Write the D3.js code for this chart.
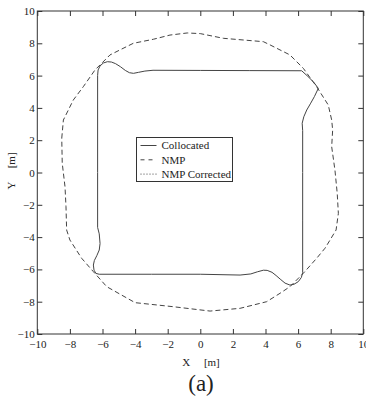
<!DOCTYPE html>
<html>
<head>
<meta charset="utf-8">
<script src="https://cdn.jsdelivr.net/npm/d3@7"></script>
<style>
  body { margin: 0; background: #fff; }
  svg { display: block; }
  text { font-family: "Liberation Serif", "Times New Roman", Times, serif; fill: #222; }
  .axis text { font-size: 11px; }
  .axis line { stroke: #333; }
</style>
</head>
<body>
<div id="chart"></div>
<script>
// series, [x, y] in metres
const collocated = [
  [-6.3, 6.0], [-6.27, 6.35], [-6.15, 6.6], [-5.95, 6.78], [-5.7, 6.86], [-5.45, 6.84],
  [-5.2, 6.74], [-4.9, 6.55], [-4.6, 6.32], [-4.35, 6.18], [-4.1, 6.14], [-3.8, 6.2],
  [-3.4, 6.28], [-2.9, 6.33], [0, 6.32], [3, 6.31], [6.22, 6.3], [6.6, 5.95],
  [6.95, 5.6], [7.24, 5.21], [7.0, 4.7], [6.75, 4.25], [6.53, 3.87], [6.35, 3.45],
  [6.25, 3.05], [6.28, 2.6], [6.28, 0], [6.28, -3], [6.28, -6.2], [6.2, -6.5],
  [6.01, -6.76], [5.75, -6.92], [5.5, -6.97], [5.2, -6.85], [4.9, -6.6], [4.65, -6.38],
  [4.4, -6.18], [4.1, -6.06], [3.87, -6.05], [3.5, -6.15], [3.1, -6.28], [2.44, -6.35],
  [0, -6.3], [-3, -6.3], [-6.2, -6.3], [-6.4, -6.25], [-6.52, -6.05], [-6.56, -5.73],
  [-6.5, -5.45], [-6.35, -5.15], [-6.2, -4.8], [-6.15, -4.4], [-6.2, -3.8], [-6.3, -3.4],
  [-6.3, 0], [-6.3, 6.0]
];
const nmp = [
  [-8.5, 2.12], [-8.4, 3.25], [-7.79, 4.49], [-7.18, 5.31], [-6.46, 6.35], [-5.54, 7.28],
  [-4.93, 7.59], [-4.11, 8.0], [-2.88, 8.25], [-1.86, 8.51], [-0.8, 8.64], [0, 8.6],
  [1.41, 8.31], [3.87, 8.1], [4.28, 7.9], [5.5, 7.28], [6.32, 6.45], [7.14, 5.31],
  [7.85, 4.18], [8.06, 3.25], [8.12, 2.63], [8.06, 1.6], [8.26, 0.15], [8.4, -1.29],
  [8.47, -2.53], [8.33, -3.56], [7.96, -4.18], [7.65, -4.69], [7.14, -5.31], [6.32, -6.24],
  [5.5, -7.07], [4.89, -7.48], [4.07, -8.0], [2.44, -8.41], [0.6, -8.58], [-1.66, -8.31],
  [-4.0, -8.06], [-5.74, -7.07], [-6.56, -6.14], [-7.28, -5.31], [-8.0, -4.18], [-8.2, -3.56],
  [-8.24, -2.12], [-8.3, -0.88], [-8.47, 0.57], [-8.5, 2.12]
];
const legendNames = ["Collocated", "NMP", "NMP Corrected"];
const xTicks = [-10, -8, -6, -4, -2, 0, 2, 4, 6, 8, 10];
const yTicks = [-10, -8, -6, -4, -2, 0, 2, 4, 6, 8, 10];

const W = 366, H = 398;
const margin = {top: 11, right: 2.7, bottom: 64, left: 37.3};
const width = W - margin.left - margin.right;
const height = H - margin.top - margin.bottom;

const svg = d3.select("#chart").append("svg")
  .attr("width", W).attr("height", H);
const g = svg.append("g")
  .attr("transform", `translate(${margin.left},${margin.top})`);

const x = d3.scaleLinear().domain([-10, 10]).range([0, width]);
const y = d3.scaleLinear().domain([-10, 10]).range([height, 0]);
const fmt = d => d < 0 ? "\u2212" + Math.abs(d) : String(d);

// axes, ticks pointing inward like matlab
g.append("g").attr("class", "axis")
  .attr("transform", `translate(0,${height})`)
  .call(d3.axisBottom(x).tickValues(xTicks).tickSize(-5).tickSizeOuter(0).tickPadding(6.5).tickFormat(fmt));
g.append("g").attr("class", "axis")
  .call(d3.axisLeft(y).tickValues(yTicks).tickSize(-5).tickSizeOuter(0).tickPadding(2.5).tickFormat(fmt));
g.append("g").attr("class", "axis")
  .call(d3.axisTop(x).tickValues(xTicks).tickSize(-5).tickSizeOuter(0).tickFormat(""));
g.append("g").attr("class", "axis")
  .attr("transform", `translate(${width},0)`)
  .call(d3.axisRight(y).tickValues(yTicks).tickSize(-5).tickSizeOuter(0).tickFormat(""));
g.selectAll(".axis .domain").remove();
g.selectAll(".axis text").attr("font-family", null);
g.append("rect").attr("width", width).attr("height", height)
  .attr("fill", "none").attr("stroke", "#333").attr("stroke-width", 1);

const line = d3.line().x(d => x(d[0])).y(d => y(d[1]));

g.append("path").datum(nmp)
  .attr("d", line).attr("fill", "none")
  .attr("stroke", "#444").attr("stroke-width", 1).attr("stroke-dasharray", "5,3");
g.append("path").datum(collocated)
  .attr("d", line).attr("fill", "none")
  .attr("stroke", "#444").attr("stroke-width", 1).attr("stroke-linejoin", "round");

// legend
const lg = svg.append("g").attr("transform", "translate(136.5,137.5)");
lg.append("rect").attr("width", 96).attr("height", 44)
  .attr("fill", "#fff").attr("stroke", "#333").attr("stroke-width", 1);
const dashes = [null, "4,4", "1,2"];
legendNames.forEach((name, i) => {
  const yy = 8 + i * 14.3;
  lg.append("line").attr("x1", 4).attr("x2", 20).attr("y1", yy).attr("y2", yy)
    .attr("stroke", "#444").attr("stroke-width", 1)
    .attr("stroke-dasharray", dashes[i]);
  lg.append("text").attr("x", 25).attr("y", yy + 3.8)
    .attr("font-size", 11).text(name);
});

// axis titles
svg.append("text").attr("x", 201).attr("y", 366)
  .attr("text-anchor", "middle").attr("font-size", 11).attr("xml:space", "preserve")
  .text("X     [m]");
svg.append("text").attr("transform", "translate(15,171) rotate(-90)")
  .attr("text-anchor", "middle").attr("font-size", 11).attr("xml:space", "preserve")
  .text("Y     [m]");
svg.append("text").attr("x", 201).attr("y", 391)
  .attr("text-anchor", "middle").attr("font-size", 23).attr("fill", "#111")
  .text("(a)");
</script>
</body>
</html>
